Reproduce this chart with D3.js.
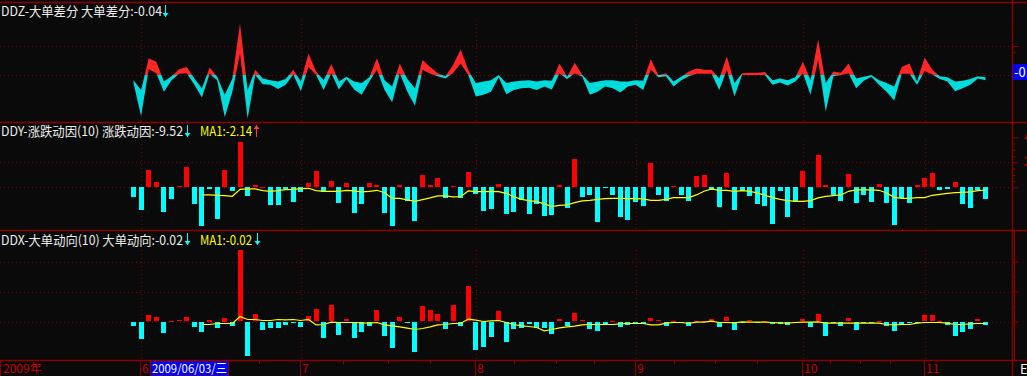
<!DOCTYPE html>
<html>
<head>
<meta charset="utf-8">
<script src="https://cdn.jsdelivr.net/npm/d3@7"></script>
<style>
  html, body { margin: 0; padding: 0; background: #0a0a0a; overflow: hidden; }
  svg { display: block; }
  text { font-family: "Noto Sans CJK SC", "Liberation Sans", sans-serif; }
</style>
</head>
<body>
<div id="chart"></div>
<script>
const width = 1027
const height = 376

// month starts (bar index) and their labels on the time axis
const monthStart = [1, 22, 45, 66, 88, 104]
const monthLabels = ["6", "7", "8", "9", "10", "11"]
const weekTicks = [16.5, 27.5, 33.5, 39, 50, 55.5, 60.5, 71, 76.5, 82, 91.5, 95.5, 99.5]

// DDZ band: upper and lower edge per bar
const ddzHigh = [-0.09, -0.26, 0.29, 0.23, -0.11, -0.02, 0.10, 0.14, -0.06, -0.23,
  0.13, -0.03, -0.34, -0.06, 0.89, -0.26, 0.09, -0.06, -0.09, -0.11,
  -0.07, 0.09, -0.11, 0.37, 0.06, -0.09, 0.19, -0.11, -0.03, -0.11,
  -0.14, -0.04, 0.29, -0.09, -0.20, 0.20, -0.07, -0.23, 0.26, 0.14,
  0.03, -0.02, 0.17, 0.44, 0.09, -0.14, -0.11, -0.09, 0.00, -0.14,
  -0.11, -0.10, -0.09, -0.11, -0.09, -0.10, 0.20, -0.03, 0.21, 0.00,
  -0.14, -0.11, -0.09, -0.09, -0.11, -0.11, -0.09, -0.10, 0.27, 0.00,
  0.03, -0.11, -0.03, 0.06, 0.11, 0.09, 0.09, -0.06, 0.32, -0.14,
  0.03, 0.04, 0.04, 0.05, -0.09, -0.06, -0.09, -0.04, 0.23, -0.09,
  0.61, -0.14, 0.06, 0.04, 0.20, -0.06, -0.03, 0.00, -0.09, -0.14,
  -0.20, 0.14, 0.20, -0.11, 0.30, 0.09, -0.02, -0.04, -0.11, -0.10,
  -0.07, -0.02, -0.04]
const ddzLow = [-0.14, -0.71, 0.10, 0.03, -0.29, -0.09, 0.02, 0.03, -0.17, -0.39,
  0.02, -0.09, -0.73, -0.29, 0.37, -0.75, 0.00, -0.16, -0.17, -0.24,
  -0.17, 0.01, -0.28, 0.14, 0.00, -0.26, 0.03, -0.25, -0.07, -0.25,
  -0.34, -0.11, 0.09, -0.26, -0.47, 0.03, -0.29, -0.53, 0.09, 0.02,
  -0.02, -0.06, 0.03, 0.20, 0.00, -0.37, -0.34, -0.29, -0.04, -0.33,
  -0.26, -0.23, -0.22, -0.26, -0.20, -0.25, 0.03, -0.07, 0.03, -0.03,
  -0.34, -0.29, -0.20, -0.23, -0.30, -0.20, -0.17, -0.26, 0.09, -0.04,
  -0.02, -0.20, -0.09, -0.02, 0.02, 0.02, 0.02, -0.26, 0.09, -0.37,
  0.00, 0.00, 0.00, 0.00, -0.17, -0.13, -0.18, -0.11, 0.03, -0.34,
  0.26, -0.63, -0.02, 0.00, 0.03, -0.23, -0.10, -0.03, -0.17, -0.29,
  -0.44, 0.02, 0.02, -0.17, 0.07, 0.01, -0.07, -0.11, -0.28, -0.23,
  -0.17, -0.06, -0.09]

// DDY bars and MA1
const ddy = [-8.2, -18.2, 13.8, 4.2, -20.2, -9.4, 1.0, 16.2, -13.8, -31.4,
  -1.4, -25.8, 13.8, -3.0, 36.2, -7.4, 1.8, 0.3, -14.6, -14.6,
  -1.4, -12.2, -4.2, 3.4, 13.0, -4.2, 5.0, -13.0, 3.4, -21.0,
  -13.8, 3.4, 1.8, -21.0, -31.4, 1.8, -11.4, -27.4, 9.8, 1.8,
  7.4, -9.0, 1.0, -9.0, 12.2, -5.8, -19.4, -17.8, 2.6, -21.8,
  -20.2, -10.6, -21.8, -13.8, -23.4, -22.6, 1.8, -17.0, 22.6, -7.8,
  -6.2, -27.8, -0.6, -6.2, -23.8, -26.2, -12.2, -15.0, 19.4, -6.2,
  -11.4, 1.0, -6.2, -11.4, 9.0, 9.8, -2.2, -16.2, 11.4, -18.2,
  -3.4, -7.4, -13.8, -15.4, -29.8, -3.0, -24.2, -12.2, 13.0, -17.0,
  25.8, 1.8, -6.2, -11.4, 10.6, -13.0, -6.6, -12.2, 2.6, -13.0,
  -30.6, -9.0, -13.0, 1.8, 7.4, 11.4, -2.2, -1.4, 4.2, -13.8,
  -17.0, -2.6, -9.52]
const ddyMa = [null, null, null, null, null, null, null, null, null, -6.1,
  -6.1, -6.4, -6.7, -7.2, -1.6, -1.3, -1.3, -2.7, -3.2, -2.7,
  -1.9, -1.6, -1.1, -0.8, -2.7, -3.2, -3.2, -3.2, -2.4, -2.9,
  -3.7, -3.2, -2.4, -4.3, -8.8, -8.8, -10.1, -11.2, -9.9, -8.5,
  -6.9, -6.9, -7.7, -7.5, -2.9, -3.5, -3.5, -3.2, -3.5, -4.8,
  -7.5, -9.6, -10.7, -11.5, -13.3, -15.5, -14.4, -14.1, -12.3, -10.9,
  -10.4, -9.6, -9.1, -8.8, -8.8, -9.1, -9.1, -9.3, -10.4, -10.4,
  -9.6, -8.3, -8.3, -8.3, -6.1, -3.2, -1.3, -2.4, -2.4, -3.2,
  -2.7, -3.2, -4.5, -6.4, -8.3, -9.6, -10.7, -11.2, -11.2, -10.7,
  -8.5, -7.2, -6.7, -6.1, -3.2, -2.1, -2.1, -2.1, -2.4, -4.5,
  -8.0, -8.8, -8.8, -8.3, -8.3, -6.4, -5.6, -4.8, -4.3, -4.0,
  -3.7, -2.7, -2.14]

// DDX bars and MA1
const ddx = [-0.022, -0.087, 0.032, 0.022, -0.057, 0.004, 0.007, 0.022, -0.027, -0.052,
  0.009, -0.032, 0.019, -0.022, 0.357, -0.169, 0.037, -0.042, -0.032, -0.032,
  -0.017, -0.007, -0.027, 0.027, 0.062, -0.082, 0.082, -0.067, 0.012, -0.082,
  -0.052, -0.022, 0.057, -0.072, -0.132, 0.022, -0.007, -0.152, 0.077, 0.057,
  0.037, -0.037, 0.082, -0.022, 0.177, -0.142, -0.127, -0.077, 0.052, -0.102,
  -0.037, -0.032, -0.012, -0.032, -0.032, -0.062, 0.012, -0.022, 0.042, 0.007,
  -0.037, -0.047, -0.012, 0.004, -0.027, -0.017, -0.012, -0.012, 0.017, 0.007,
  -0.022, 0.002, -0.007, -0.022, 0.002, 0.002, 0.012, -0.027, 0.022, -0.042,
  -0.007, 0.007, -0.007, 0.002, -0.012, -0.012, -0.017, -0.007, 0.012, -0.027,
  0.037, -0.072, -0.007, -0.022, 0.017, -0.042, -0.007, -0.007, 0.002, -0.022,
  -0.047, -0.012, -0.007, -0.007, 0.032, 0.032, 0.002, -0.017, -0.072, -0.052,
  -0.037, 0.012, -0.017]
const ddxMa = [null, null, null, null, null, null, null, null, null, -0.015,
  -0.015, -0.010, -0.010, -0.010, 0.025, 0.010, 0.010, 0.005, 0.005, 0.010,
  0.008, 0.010, 0.005, 0.010, -0.017, -0.015, -0.003, -0.005, -0.005, -0.005,
  -0.007, -0.008, -0.005, -0.017, -0.022, -0.027, -0.033, -0.040, -0.035, -0.027,
  -0.017, -0.015, -0.010, -0.010, 0.012, 0.007, 0.000, 0.003, 0.005, -0.005,
  -0.015, -0.022, -0.025, -0.030, -0.047, -0.040, -0.032, -0.027, -0.023, -0.017,
  -0.015, -0.015, -0.015, -0.015, -0.012, -0.010, -0.010, -0.010, -0.017, -0.017,
  -0.008, -0.005, -0.005, -0.010, -0.003, -0.003, 0.002, -0.005, -0.005, -0.007,
  -0.002, -0.003, -0.003, -0.003, -0.005, -0.007, -0.008, -0.005, -0.003, -0.003,
  -0.002, -0.008, -0.008, -0.008, -0.008, -0.008, -0.008, -0.008, -0.008, -0.015,
  -0.017, -0.015, -0.015, -0.008, -0.005, -0.005, -0.005, -0.008, -0.015, -0.015,
  -0.012, -0.010, -0.010]

const frame = "#8c0000"
const gridCol = "#7a0000"
const axisRed = "#c80000"

const svg = d3
  .select("#chart")
  .append("svg")
  .attr("width", width)
  .attr("height", height)

svg.append("rect").attr("width", width).attr("height", height).attr("fill", "#0a0a0a")

const x = d3.scaleLinear().domain([0, ddy.length - 1]).range([133.5, 985.5])
const plotRight = 1012

// panel scales
const yZ = d3.scaleLinear().domain([0, 0.5]).range([75, 46])
const yY = d3.scaleLinear().domain([0, 20]).range([187.3, 162.3])
const yX = d3.scaleLinear().domain([0, 0.15]).range([321.5, 291.5])

const panels = [
  { y: yZ, top: 2, bottom: 122, gridTop: 20, grid: [0, 0.5], major: [0, 0.5], minor: [0.4] },
  { y: yY, top: 122, bottom: 230, gridTop: 140, grid: [0, 20], major: [0, 20, 40], minor: [5, 10, 15, 25, 30, 35] },
  { y: yX, top: 230, bottom: 360, gridTop: 250, grid: [0, 0.15, 0.3], major: [0, 0.15, 0.3], minor: [0.075, 0.225] }
]

// grids and right axes
panels.forEach((p) => {
  const g = svg.append("g")
  g.selectAll("line.h")
    .data(p.grid)
    .enter()
    .append("line")
    .attr("x1", 0)
    .attr("x2", plotRight)
    .attr("y1", (d) => Math.round(p.y(d)) + 0.5)
    .attr("y2", (d) => Math.round(p.y(d)) + 0.5)
    .attr("stroke", gridCol)
    .attr("stroke-dasharray", "1,3")
  g.selectAll("line.v")
    .data(monthStart)
    .enter()
    .append("line")
    .attr("x1", (d) => Math.round(x(d)) + 0.5)
    .attr("x2", (d) => Math.round(x(d)) + 0.5)
    .attr("y1", p.gridTop)
    .attr("y2", p.bottom)
    .attr("stroke", gridCol)
    .attr("stroke-dasharray", "1,3")

  svg.append("g")
    .attr("transform", "translate(" + (plotRight + 0.5) + ",0)")
    .call(d3.axisRight(p.y).tickValues(p.major).tickSize(6).tickFormat(""))
    .call((a) => a.select(".domain").remove())
    .call((a) => a.selectAll("line").attr("stroke", frame))
  svg.append("g")
    .attr("transform", "translate(" + (plotRight + 0.5) + ",0)")
    .call(d3.axisRight(p.y).tickValues(p.minor).tickSize(3).tickFormat(""))
    .call((a) => a.select(".domain").remove())
    .call((a) => a.selectAll("line").attr("stroke", frame))
})

// DDY right labels (mostly cut off by the window edge, as in the source)
svg.selectAll("text.ylab")
  .data([40, 20])
  .enter()
  .append("text")
  .attr("x", 1024)
  .attr("y", (d) => yY(d) + 4)
  .attr("fill", axisRed)
  .attr("font-size", 12)
  .text((d) => d)

// ---- DDZ band, red above zero, cyan below ----
const defs = svg.append("defs")
defs.append("clipPath").attr("id", "above")
  .append("rect").attr("x", 0).attr("y", 20).attr("width", plotRight).attr("height", yZ(0) - 20)
defs.append("clipPath").attr("id", "below")
  .append("rect").attr("x", 0).attr("y", yZ(0)).attr("width", plotRight).attr("height", 122 - yZ(0))

const band = d3.area()
  .x((d, i) => x(i))
  .y0((d, i) => yZ(ddzLow[i]))
  .y1((d, i) => yZ(ddzHigh[i]))

svg.append("path").datum(ddzHigh).attr("d", band).attr("fill", "#ff2626").attr("clip-path", "url(#above)")
svg.append("path").datum(ddzHigh).attr("d", band).attr("fill", "#00dcdc").attr("clip-path", "url(#below)")

// ---- bars ----
function drawBars(data, y) {
  svg.append("g")
    .selectAll("rect")
    .data(data)
    .enter()
    .append("rect")
    .attr("x", (d, i) => Math.round(x(i) - 2.5))
    .attr("width", 5)
    .attr("y", (d) => Math.round(Math.min(y(d), y(0))))
    .attr("height", (d) => Math.max(1, Math.round(Math.abs(y(d) - y(0)))))
    .attr("fill", (d) => (d >= 0 ? "#ff0000" : "#00ffff"))
    .attr("shape-rendering", "crispEdges")
}
function drawMa(data, y) {
  const line = d3.line()
    .defined((d) => d !== null)
    .x((d, i) => x(i))
    .y((d) => y(d))
  svg.append("path")
    .datum(data)
    .attr("d", line)
    .attr("fill", "none")
    .attr("stroke", "#ffff00")
    .attr("stroke-width", 1.2)
}
drawBars(ddy, yY)
drawMa(ddyMa, yY)
drawBars(ddx, yX)
drawMa(ddxMa, yX)

// ---- frame lines ----
;[2.5, 122.5, 230.5, 360.5].forEach((yy) => {
  svg.append("line").attr("x1", 0).attr("x2", width).attr("y1", yy).attr("y2", yy)
    .attr("stroke", frame).attr("stroke-width", 1.4)
})
svg.append("line").attr("x1", plotRight + 0.5).attr("x2", plotRight + 0.5).attr("y1", 0).attr("y2", height)
  .attr("stroke", frame).attr("stroke-width", 1.4)
svg.append("line").attr("x1", plotRight + 2.5).attr("x2", plotRight + 2.5).attr("y1", 231).attr("y2", 360)
  .attr("stroke", frame)
svg.append("line").attr("x1", 0.5).attr("x2", 0.5).attr("y1", 360).attr("y2", height)
  .attr("stroke", frame)

// ---- time axis ----
const axis = svg.append("g")
axis.selectAll("line.sep")
  .data(monthStart)
  .enter()
  .append("line")
  .attr("x1", (d) => Math.round(x(d)) - 0.5)
  .attr("x2", (d) => Math.round(x(d)) - 0.5)
  .attr("y1", 360)
  .attr("y2", height)
  .attr("stroke", frame)
axis.selectAll("line.wk")
  .data(weekTicks)
  .enter()
  .append("line")
  .attr("x1", (d) => Math.round(x(d)) + 0.5)
  .attr("x2", (d) => Math.round(x(d)) + 0.5)
  .attr("y1", 360)
  .attr("y2", 364)
  .attr("stroke", frame)
axis.selectAll("text")
  .data(monthStart)
  .enter()
  .append("text")
  .attr("x", (d) => Math.round(x(d)) + 1)
  .attr("y", 373)
  .attr("fill", axisRed)
  .attr("font-size", 12)
  .text((d, i) => monthLabels[i])
axis.append("text").attr("x", 3).attr("y", 373).attr("fill", axisRed).attr("font-size", 12).text("2009年")

// cursor date box
axis.append("rect").attr("x", 150.5).attr("y", 361).attr("width", 78).attr("height", 15)
  .attr("fill", "#0000f5").attr("stroke", frame)
axis.append("text").attr("x", 152).attr("y", 373).attr("fill", "#ffffff").attr("font-size", 12)
  .attr("textLength", 75).attr("lengthAdjust", "spacingAndGlyphs")
  .text("2009/06/03/三")
svg.append("text").attr("x", 1020).attr("y", 374).attr("fill", "#ffffff").attr("font-size", 13).text("E")

// current value box at right of DDZ
svg.append("rect").attr("x", 1013).attr("y", 64).attr("width", 16).attr("height", 16).attr("fill", "#0000f5")
svg.append("text").attr("x", 1014).attr("y", 77).attr("fill", "#ffffff").attr("font-size", 13).text("-0.04")

// ---- titles ----
function arrow(xa, y0, y1, down, color) {
  const tip = down ? y1 : y0
  const base = down ? y1 - 4 : y0 + 4
  svg.append("line").attr("x1", xa + 0.5).attr("x2", xa + 0.5).attr("y1", y0).attr("y2", y1)
    .attr("stroke", color)
  svg.append("path")
    .attr("d", "M" + (xa - 2.5) + "," + base + "L" + (xa + 3.5) + "," + base + "L" + (xa + 0.5) + "," + tip + "Z")
    .attr("fill", color)
}
function label(xs, yb, str, color, len) {
  svg.append("text")
    .attr("x", xs)
    .attr("y", yb)
    .attr("font-size", 13)
    .attr("fill", color)
    .attr("textLength", len)
    .attr("lengthAdjust", "spacingAndGlyphs")
    .text(str)
}
label(1, 16, "DDZ-大单差分 大单差分:-0.04", "#ececec", 161)
arrow(165, 5, 17, true, "#00ffff")
label(1, 136, "DDY-涨跌动因(10) 涨跌动因:-9.52", "#ececec", 182)
label(200, 136, "MA1:-2.14", "#ffff00", 52)
arrow(187, 125, 137, true, "#00ffff")
arrow(256, 125, 137, false, "#ff3b3b")
label(1, 245, "DDX-大单动向(10) 大单动向:-0.02", "#ececec", 182)
label(200, 245, "MA1:-0.02", "#ffff00", 52)
arrow(187, 233, 245, true, "#00ffff")
arrow(257, 233, 245, true, "#00ffff")
</script>
</body>
</html>
